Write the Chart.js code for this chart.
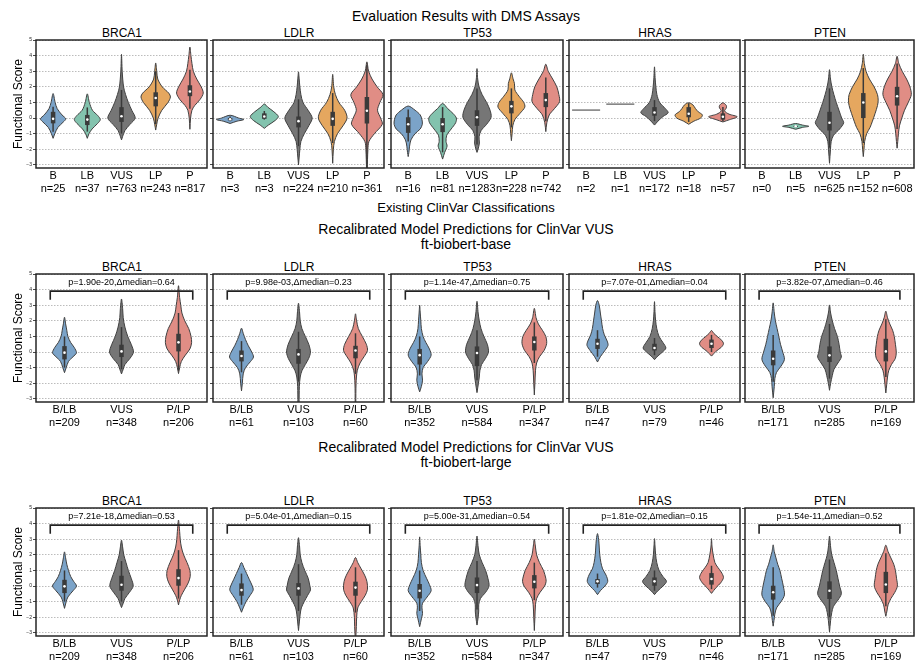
<!DOCTYPE html>
<html>
<head>
<meta charset="utf-8">
<script src="https://cdn.jsdelivr.net/npm/chart.js@4.4.1/dist/chart.umd.min.js"></script>
<style>
  body { margin: 0; background: #fff; width: 917px; height: 661px; position: relative; overflow: hidden;
         font-family: "Liberation Sans", Arial, sans-serif; color: #000; }
  .t { position: absolute; white-space: nowrap; transform: translate(-50%, -50%); line-height: 1; }
  canvas { position: absolute; }
</style>
</head>
<body>
<script>
// ---- data ----
const genes = ['BRCA1', 'LDLR', 'TP53', 'HRAS', 'PTEN'];
const dmsCats = ['B', 'LB', 'VUS', 'LP', 'P'];
const vusCats = ['B/LB', 'VUS', 'P/LP'];
const dmsCounts = [[25, 37, 763, 243, 817], [3, 3, 224, 210, 361], [16, 81, 1283, 228, 742], [2, 1, 172, 18, 57], [0, 5, 625, 152, 608]];
const vusCounts = [[209, 348, 206], [61, 103, 60], [352, 584, 347], [47, 79, 46], [171, 285, 169]];
const yTicks = [-3, -2, -1, 0, 1, 2, 3, 4, 5];

const dmsColors = ['#7ba3c8', '#83c3ae', '#767676', '#e5a75f', '#e08d85'];
const vusColors = ['#7ba3c8', '#767676', '#e08d85'];

// violin outlines: [score, half width in category units], bottom to top
const dmsViolins = [
  [
    [[-1.3,0],[-1.0,0.05],[-0.6,0.14],[-0.25,0.30],[-0.05,0.37],[0.2,0.26],[0.6,0.12],[1.0,0.06],[1.57,0]],
    [[-1.3,0],[-1.0,0.05],[-0.7,0.14],[-0.35,0.30],[-0.1,0.38],[0.15,0.31],[0.5,0.15],[1.0,0.06],[1.55,0]],
    [[-1.4,0],[-1.2,0.03],[-0.8,0.10],[-0.4,0.25],[0.0,0.40],[0.5,0.30],[1.0,0.20],[1.5,0.12],[2.0,0.06],[3.0,0.02],[4.08,0]],
    [[-0.77,0],[-0.4,0.03],[0.0,0.07],[0.5,0.18],[1.0,0.36],[1.35,0.43],[1.6,0.38],[2.0,0.19],[2.5,0.06],[3.0,0.03],[3.53,0]],
    [[-0.72,0],[0.0,0.02],[0.5,0.06],[0.8,0.14],[1.2,0.30],[1.6,0.39],[2.0,0.33],[2.5,0.20],[3.0,0.10],[3.5,0.06],[4.0,0.03],[4.55,0]]
  ],
  [
    [[-0.35,0],[-0.2,0.2],[-0.1,0.40],[0.0,0.25],[0.18,0]],
    [[-0.66,0],[-0.45,0.12],[-0.15,0.32],[0.1,0.41],[0.4,0.28],[0.7,0.1],[0.9,0]],
    [[-3.0,0],[-2.5,0.02],[-2.0,0.04],[-1.5,0.07],[-1.0,0.17],[-0.5,0.30],[0.0,0.40],[0.5,0.28],[1.0,0.13],[1.5,0.07],[2.0,0.04],[2.5,0.02],[2.96,0]],
    [[-2.9,0],[-2.0,0.02],[-1.5,0.05],[-1.0,0.14],[-0.5,0.30],[0.0,0.42],[0.5,0.35],[1.0,0.18],[1.5,0.08],[2.0,0.03],[2.8,0]],
    [[-3.3,0.01],[-2.0,0.03],[-1.5,0.06],[-1.0,0.22],[-0.4,0.45],[0.0,0.40],[0.5,0.31],[1.0,0.38],[1.5,0.47],[2.0,0.30],[2.5,0.15],[3.0,0.05],[3.6,0]]
  ],
  [
    [[-2.47,0],[-2.2,0.02],[-1.8,0.04],[-1.4,0.08],[-1.0,0.2],[-0.7,0.35],[-0.4,0.41],[-0.1,0.40],[0.2,0.35],[0.5,0.2],[0.77,0]],
    [[-2.63,0],[-2.2,0.06],[-1.8,0.13],[-1.5,0.10],[-1.1,0.12],[-0.7,0.25],[-0.3,0.38],[0.0,0.40],[0.3,0.30],[0.6,0.15],[0.93,0]],
    [[-2.2,0],[-2.0,0.03],[-1.6,0.07],[-1.2,0.06],[-0.8,0.12],[-0.4,0.28],[0.05,0.41],[0.5,0.38],[1.0,0.28],[1.5,0.15],[2.0,0.06],[2.5,0.02],[3.17,0]],
    [[-1.45,0],[-1.0,0.02],[-0.5,0.04],[-0.1,0.10],[0.3,0.25],[0.7,0.39],[1.0,0.36],[1.4,0.22],[1.8,0.1],[2.2,0.09],[2.5,0.05],[2.9,0]],
    [[-0.87,0],[-0.3,0.03],[0.2,0.10],[0.6,0.25],[1.05,0.40],[1.5,0.38],[2.0,0.32],[2.5,0.2],[3.0,0.07],[3.45,0]]
  ],
  [
    [[0.51,0.41]],
    [[0.89,0.41]],
    [[-0.45,0],[-0.2,0.1],[0.1,0.25],[0.34,0.40],[0.6,0.32],[1.0,0.15],[1.5,0.07],[2.0,0.04],[2.5,0.02],[3.28,0]],
    [[-0.4,0],[-0.2,0.15],[0.0,0.35],[0.2,0.40],[0.4,0.28],[0.6,0.2],[0.85,0.12],[0.98,0]],
    [[-0.25,0],[-0.1,0.2],[0.08,0.42],[0.25,0.18],[0.45,0.05],[0.65,0.1],[0.8,0.1],[0.98,0]]
  ],
  [
    [],
    [[-0.72,0],[-0.6,0.2],[-0.53,0.39],[-0.45,0.2],[-0.35,0]],
    [[-2.9,0],[-2.0,0.03],[-1.5,0.05],[-1.1,0.12],[-0.7,0.30],[-0.3,0.42],[0.0,0.36],[0.5,0.28],[1.0,0.2],[1.5,0.13],[2.0,0.07],[2.5,0.03],[3.1,0]],
    [[-2.47,0],[-2.0,0.02],[-1.5,0.04],[-1.0,0.10],[-0.6,0.20],[-0.2,0.27],[0.3,0.35],[0.8,0.42],[1.15,0.44],[1.5,0.42],[2.0,0.32],[2.5,0.18],[3.0,0.08],[3.5,0.03],[4.09,0]],
    [[-1.93,0],[-1.5,0.02],[-1.0,0.04],[-0.5,0.07],[0.0,0.14],[0.5,0.22],[1.0,0.33],[1.5,0.42],[2.0,0.38],[2.5,0.28],[3.0,0.15],[3.5,0.05],[3.96,0]]
  ]
];
// inner box: [whisker low, q1, median, q3, whisker high]
const dmsBoxes = [
  [[-0.87,-0.34,-0.05,0.4,0.72], [-0.87,-0.45,-0.1,0.2,0.68], [-1.0,-0.25,0.12,0.7,1.8], [-0.4,0.75,1.28,1.65,3.0], [0.6,1.4,1.7,2.1,3.1]],
  [[-0.2,-0.15,-0.08,0.0,0.1], [-0.1,-0.05,0.1,0.3,0.45], [-1.8,-0.6,-0.2,0.1,1.2], [-1.6,-0.5,-0.05,0.4,1.6], [-3.2,-0.35,0.47,1.35,3.4]],
  [[-1.5,-0.95,-0.4,0.05,0.55], [-2.2,-0.9,-0.4,0.0,0.7], [-1.7,-0.5,0.05,0.5,1.9], [-0.6,0.3,0.75,1.1,1.9], [-0.2,0.7,1.15,1.6,2.6]],
  [null, null, [-0.2,0.15,0.36,0.7,1.15], [-0.25,0.05,0.28,0.7,0.95], [-0.2,-0.1,0.08,0.3,0.7]],
  [null, [-0.6,-0.56,-0.53,-0.5,-0.46], [-1.9,-0.8,-0.3,0.4,1.9], [-1.6,0.0,1.0,1.6,3.2], [-0.7,0.8,1.4,2.0,3.5]]
];

const baseViolins = [
  [
    [[-1.32,0],[-1.0,0.03],[-0.6,0.07],[-0.3,0.15],[-0.05,0.21],[0.3,0.17],[0.6,0.11],[1.0,0.06],[1.4,0.04],[1.8,0.02],[2.23,0]],
    [[-1.4,0],[-1.1,0.03],[-0.8,0.06],[-0.4,0.15],[0.0,0.21],[0.5,0.17],[1.0,0.11],[1.6,0.06],[2.2,0.03],[2.8,0.02],[3.4,0]],
    [[-1.38,0],[-1.0,0.02],[-0.6,0.05],[-0.2,0.12],[0.2,0.2],[0.6,0.23],[1.0,0.22],[1.5,0.18],[2.0,0.11],[2.5,0.06],[3.0,0.04],[3.5,0.02],[4.25,0]]
  ],
  [
    [[-2.49,0],[-2.0,0.015],[-1.4,0.03],[-1.0,0.07],[-0.6,0.16],[-0.32,0.21],[0.0,0.18],[0.4,0.12],[0.8,0.07],[1.2,0.03],[1.53,0]],
    [[-3.3,0.01],[-2.2,0.015],[-1.6,0.03],[-1.2,0.06],[-0.8,0.12],[-0.4,0.18],[0.0,0.21],[0.5,0.18],[1.0,0.12],[1.5,0.06],[2.0,0.03],[2.5,0.02],[3.13,0]],
    [[-3.3,0.005],[-2.0,0.01],[-1.2,0.03],[-0.7,0.08],[-0.3,0.15],[0.1,0.21],[0.5,0.19],[1.0,0.12],[1.5,0.05],[2.0,0.02],[2.45,0]]
  ],
  [
    [[-2.55,0],[-2.2,0.03],[-1.8,0.05],[-1.4,0.04],[-1.0,0.06],[-0.6,0.14],[-0.2,0.2],[0.2,0.17],[0.6,0.11],[1.0,0.06],[1.5,0.03],[2.0,0.02],[2.5,0.01],[3.0,0]],
    [[-2.6,0],[-2.0,0.025],[-1.6,0.04],[-1.2,0.05],[-0.8,0.08],[-0.4,0.15],[0.0,0.2],[0.5,0.18],[1.0,0.12],[1.5,0.07],[2.0,0.04],[2.5,0.02],[3.25,0]],
    [[-2.75,0],[-2.0,0.01],[-1.2,0.02],[-0.7,0.04],[-0.3,0.09],[0.1,0.17],[0.55,0.215],[1.0,0.2],[1.4,0.14],[1.8,0.07],[2.2,0.03],[2.8,0]]
  ],
  [
    [[-0.64,0],[-0.3,0.05],[0.1,0.13],[0.43,0.185],[0.7,0.17],[1.1,0.12],[1.5,0.09],[2.0,0.07],[2.5,0.05],[3.0,0.03],[3.3,0]],
    [[-0.49,0],[-0.25,0.06],[0.0,0.14],[0.26,0.2],[0.6,0.15],[1.0,0.08],[1.5,0.04],[2.0,0.02],[2.5,0.01],[3.23,0]],
    [[-0.26,0],[0.05,0.08],[0.3,0.17],[0.53,0.21],[0.75,0.18],[1.0,0.1],[1.2,0.04],[1.38,0]]
  ],
  [
    [[-2.93,0],[-2.2,0.02],[-1.7,0.03],[-1.3,0.06],[-0.9,0.14],[-0.47,0.2],[0.0,0.17],[0.5,0.13],[1.0,0.1],[1.5,0.07],[2.0,0.04],[2.5,0.02],[3.15,0]],
    [[-2.45,0],[-2.0,0.02],[-1.5,0.05],[-1.1,0.08],[-0.7,0.15],[-0.32,0.21],[0.0,0.19],[0.5,0.17],[1.0,0.14],[1.5,0.09],[2.0,0.05],[2.5,0.02],[3.02,0]],
    [[-2.62,0],[-2.1,0.015],[-1.6,0.03],[-1.2,0.05],[-0.8,0.1],[-0.4,0.17],[0.0,0.185],[0.5,0.17],[1.0,0.15],[1.4,0.12],[1.8,0.07],[2.2,0.03],[2.62,0]]
  ]
];
const baseBoxes = [
  [[-1.0,-0.47,-0.04,0.38,1.0], [-1.1,-0.32,0.04,0.47,1.6], [-1.2,0.04,0.62,1.17,2.5]],
  [[-1.3,-0.6,-0.25,0.1,0.7], [-1.9,-0.75,-0.15,0.2,1.3], [-1.4,-0.4,0.1,0.4,1.2]],
  [[-1.5,-0.8,-0.2,0.2,1.0], [-1.8,-0.9,-0.06,0.36,1.4], [-0.7,0.1,0.64,1.0,1.9]],
  [[-0.3,0.2,0.53,0.85,1.4], [-0.2,0.1,0.26,0.53,0.9], [0.0,0.26,0.53,0.8,1.1]],
  [[-1.9,-0.85,-0.43,0.1,1.1], [-1.7,-0.64,-0.21,0.36,1.8], [-1.6,-0.6,0.04,0.85,2.1]]
];
const basePvals = ['p=1.90e-20,\u0394median=0.64', 'p=9.98e-03,\u0394median=0.23', 'p=1.14e-47,\u0394median=0.75', 'p=7.07e-01,\u0394median=0.04', 'p=3.82e-07,\u0394median=0.46'];

const largeViolins = [
  [
    [[-1.43,0],[-1.0,0.03],[-0.7,0.06],[-0.3,0.15],[0.0,0.21],[0.3,0.16],[0.6,0.11],[1.0,0.07],[1.4,0.04],[1.8,0.02],[2.19,0]],
    [[-1.38,0],[-1.1,0.03],[-0.8,0.06],[-0.4,0.14],[0.0,0.205],[0.5,0.17],[1.0,0.12],[1.5,0.08],[2.0,0.04],[2.5,0.02],[2.94,0]],
    [[-1.21,0],[-0.9,0.02],[-0.6,0.05],[-0.2,0.11],[0.2,0.17],[0.6,0.205],[1.0,0.2],[1.5,0.15],[2.0,0.09],[2.5,0.05],[3.0,0.03],[3.5,0.02],[4.23,0]]
  ],
  [
    [[-1.68,0],[-1.4,0.03],[-1.0,0.08],[-0.6,0.15],[-0.26,0.205],[0.0,0.19],[0.4,0.14],[0.8,0.09],[1.2,0.04],[1.51,0]],
    [[-2.85,0],[-2.3,0.015],[-1.8,0.03],[-1.4,0.05],[-1.0,0.1],[-0.6,0.16],[-0.25,0.21],[0.0,0.2],[0.5,0.17],[1.0,0.11],[1.5,0.06],[2.0,0.03],[2.5,0.02],[3.1,0]],
    [[-3.3,0.005],[-2.6,0.015],[-2.0,0.02],[-1.4,0.04],[-1.0,0.1],[-0.6,0.17],[-0.2,0.21],[0.3,0.2],[0.7,0.16],[1.1,0.1],[1.5,0.04],[1.83,0]]
  ],
  [
    [[-2.6,0],[-2.1,0.03],[-1.75,0.05],[-1.4,0.04],[-1.1,0.05],[-0.7,0.13],[-0.3,0.2],[0.1,0.17],[0.5,0.12],[1.0,0.06],[1.5,0.03],[2.0,0.02],[2.5,0.01],[3.15,0]],
    [[-2.5,0],[-2.0,0.02],[-1.6,0.03],[-1.2,0.03],[-0.8,0.06],[-0.4,0.15],[0.0,0.21],[0.5,0.19],[1.0,0.15],[1.5,0.09],[2.0,0.04],[2.5,0.02],[3.2,0]],
    [[-2.85,0],[-2.0,0.01],[-1.2,0.02],[-0.8,0.04],[-0.4,0.1],[0.0,0.18],[0.28,0.205],[0.5,0.2],[1.0,0.16],[1.5,0.09],[2.0,0.04],[2.5,0.02],[3.0,0]]
  ],
  [
    [[-0.55,0],[-0.3,0.05],[0.0,0.13],[0.3,0.18],[0.7,0.15],[1.1,0.09],[1.5,0.06],[2.0,0.04],[2.5,0.03],[3.0,0.02],[3.36,0]],
    [[-0.55,0],[-0.3,0.06],[0.0,0.15],[0.3,0.21],[0.6,0.15],[1.0,0.08],[1.5,0.04],[2.0,0.02],[2.5,0.01],[3.04,0]],
    [[-0.47,0],[-0.1,0.08],[0.2,0.16],[0.55,0.21],[0.9,0.17],[1.2,0.11],[1.5,0.06],[2.0,0.03],[2.5,0.01],[3.04,0]]
  ],
  [
    [[-2.57,0],[-2.2,0.015],[-1.8,0.03],[-1.4,0.06],[-1.0,0.14],[-0.57,0.2],[0.0,0.18],[0.5,0.15],[1.0,0.12],[1.4,0.08],[1.8,0.05],[2.2,0.02],[2.64,0]],
    [[-2.95,0],[-2.2,0.02],[-1.7,0.04],[-1.3,0.07],[-0.9,0.15],[-0.5,0.21],[0.0,0.18],[0.5,0.15],[1.0,0.12],[1.5,0.08],[2.0,0.04],[2.5,0.02],[3.2,0]],
    [[-1.94,0],[-1.6,0.02],[-1.2,0.04],[-0.8,0.09],[-0.4,0.16],[0.0,0.205],[0.5,0.19],[1.0,0.17],[1.4,0.14],[1.8,0.09],[2.2,0.04],[2.62,0]]
  ]
];
const largeBoxes = [
  [[-1.0,-0.45,-0.02,0.4,1.0], [-1.0,-0.3,0.08,0.66,1.6], [-0.8,0.02,0.51,1.08,2.3]],
  [[-1.2,-0.62,-0.26,0.17,0.8], [-1.6,-0.62,-0.15,0.19,1.4], [-1.7,-0.62,-0.1,0.28,1.2]],
  [[-1.6,-0.79,-0.3,0.13,1.0], [-1.5,-0.45,0.06,0.55,1.6], [-0.9,-0.15,0.28,0.7,1.5]],
  [[-0.1,0.13,0.3,0.45,0.8], [-0.3,0.02,0.3,0.55,1.0], [-0.2,0.09,0.45,0.83,1.3]],
  [[-1.9,-0.87,-0.4,0.02,1.2], [-2.0,-0.83,-0.3,0.3,1.7], [-1.3,-0.45,0.1,0.91,2.1]]
];
const largePvals = ['p=7.21e-18,\u0394median=0.53', 'p=5.04e-01,\u0394median=0.15', 'p=5.00e-31,\u0394median=0.54', 'p=1.81e-02,\u0394median=0.15', 'p=1.54e-11,\u0394median=0.52'];

// bracket over B/LB .. P/LP, in axis units
const bracketX = [-0.25, 2.25];
const bracketY = [3.35, 3.9];
const pTextY = 4.45;

// ---- layout ----
const colLeft = [36, 213, 391, 569, 745];
const colWidth = [172, 172, 173, 172, 170];
const rowTop = [39, 273, 507];
const plotH = 129;
const titleY = [33, 267, 501];

Chart.defaults.font.family = '"Liberation Sans", Arial, sans-serif';
Chart.defaults.color = '#000';

function label(text, x, y, size) {
  const d = document.createElement('div');
  d.className = 't';
  d.textContent = text;
  d.style.left = x + 'px';
  d.style.top = y + 'px';
  d.style.fontSize = size + 'px';
  document.body.appendChild(d);
}

const framePlugin = {
  id: 'frame',
  afterDatasetsDraw(chart, args, opts) {
    const {ctx, chartArea: a, scales} = chart;
    ctx.save();
    ctx.strokeStyle = '#262626';
    ctx.lineWidth = 1.5;
    ctx.strokeRect(a.left, a.top, a.right - a.left, a.bottom - a.top);
    if (opts.text) {
      ctx.fillStyle = '#000';
      ctx.font = '9px "Liberation Sans", Arial, sans-serif';
      ctx.textAlign = 'center';
      ctx.textBaseline = 'middle';
      ctx.fillText(opts.text, scales.x.getPixelForValue(1), scales.y.getPixelForValue(pTextY));
    }
    ctx.restore();
  }
};

function makePanel(row, g, cats, counts, violins, boxes, colors, pvals) {
  const first = g === 0;
  const yW = first ? 36 : 6;
  const w = colWidth[g];
  const cw = yW + w + 3, ch = 3 + plotH + 30;
  const cv = document.createElement('canvas');
  cv.width = cw; cv.height = ch;
  cv.style.left = (colLeft[g] - yW) + 'px';
  cv.style.top = (rowTop[row] - 3) + 'px';
  cv.style.width = cw + 'px'; cv.style.height = ch + 'px';
  document.body.appendChild(cv);

  const datasets = [];
  cats.forEach((cat, i) => {
    const prof = violins[g][i];
    if (prof.length === 1) {
      const [y, hw] = prof[0];
      datasets.push({ data: [{x: i - hw, y}, {x: i + hw, y}], borderColor: '#7a7a7a', borderWidth: 1.5,
        pointRadius: 0, fill: false, order: 3 });
    } else if (prof.length) {
      const right = prof.map(([y, hw]) => ({x: i + hw, y}));
      const left = prof.slice(0, -1).reverse().map(([y, hw]) => ({x: i - hw, y}));
      datasets.push({ data: right.concat(left), borderColor: '#404040', borderWidth: 1,
        backgroundColor: colors[i], fill: 'shape', tension: 0.3, pointRadius: 0, order: 3 });
    }
    const b = boxes[g][i];
    if (b) {
      datasets.push({ data: [{x: i, y: b[0]}, {x: i, y: b[4]}], borderColor: '#3a3a3a', borderWidth: 1.5,
        pointRadius: 0, fill: false, order: 2 });
      datasets.push({ data: [{x: i, y: b[1]}, {x: i, y: b[3]}], borderColor: '#3a3a3a', borderWidth: 4.5,
        borderCapStyle: 'butt', pointRadius: 0, fill: false, order: 1 });
      datasets.push({ data: [{x: i, y: b[2]}], showLine: false, pointRadius: 1.3, pointBorderWidth: 0,
        pointBackgroundColor: '#fff', order: 0 });
    }
  });
  if (pvals) {
    datasets.push({ data: [{x: bracketX[0], y: bracketY[0]}, {x: bracketX[0], y: bracketY[1]},
                           {x: bracketX[1], y: bracketY[1]}, {x: bracketX[1], y: bracketY[0]}],
      borderColor: '#222', borderWidth: 1.6, pointRadius: 0, fill: false, tension: 0, order: 0 });
  }

  new Chart(cv, {
    type: 'line',
    data: { datasets },
    plugins: [framePlugin],
    options: {
      responsive: false,
      animation: false,
      devicePixelRatio: 1,
      layout: { padding: { top: 3, right: 3, left: 0, bottom: 0 } },
      plugins: {
        legend: { display: false },
        tooltip: { enabled: false },
        frame: { text: pvals ? pvals[g] : null }
      },
      scales: {
        x: {
          type: 'linear',
          min: -0.5, max: cats.length - 0.5,
          afterBuildTicks: axis => { axis.ticks = cats.map((c, i) => ({value: i})); },
          afterFit: s => { s.height = 30; },
          ticks: {
            autoSkip: false, maxRotation: 0, padding: 1, color: '#000',
            font: { size: 11 },
            callback: v => [cats[v], 'n=' + counts[g][v]]
          },
          grid: { display: false, drawTicks: false },
          border: { display: false }
        },
        y: {
          min: -3.2, max: 5,
          afterBuildTicks: axis => { axis.ticks = yTicks.map(v => ({value: v})); },
          afterFit: s => { s.width = yW; },
          ticks: {
            display: first, padding: 1, color: '#222', font: { size: 5 },
            callback: v => v < 0 ? '\u2212' + (-v) : String(v)
          },
          grid: { color: '#b4b4b4', lineWidth: 0.9, tickLength: 3, tickColor: '#333', tickWidth: 0.9, tickBorderDash: [] },
          border: { display: false, dash: [1.5, 1.5] },
          title: { display: first, text: 'Functional Score', font: { size: 12 }, color: '#000', padding: { top: 11.5, bottom: 0 } }
        }
      }
    }
  });
}

// ---- titles ----
label('Evaluation Results with DMS Assays', 466, 16, 14);
label('Existing ClinVar Classifications', 466, 207, 13);
label('Recalibrated Model Predictions for ClinVar VUS', 466, 229, 14);
label('ft-biobert-base', 466, 244, 14);
label('Recalibrated Model Predictions for ClinVar VUS', 466, 447, 14);
label('ft-biobert-large', 466, 462, 14);
for (let r = 0; r < 3; r++) {
  genes.forEach((gn, g) => label(gn, colLeft[g] + colWidth[g] / 2, titleY[r], 12));
}

// ---- panels ----
genes.forEach((gn, g) => {
  makePanel(0, g, dmsCats, dmsCounts, dmsViolins, dmsBoxes, dmsColors, null);
  makePanel(1, g, vusCats, vusCounts, baseViolins, baseBoxes, vusColors, basePvals);
  makePanel(2, g, vusCats, vusCounts, largeViolins, largeBoxes, vusColors, largePvals);
});
</script>
</body>
</html>
